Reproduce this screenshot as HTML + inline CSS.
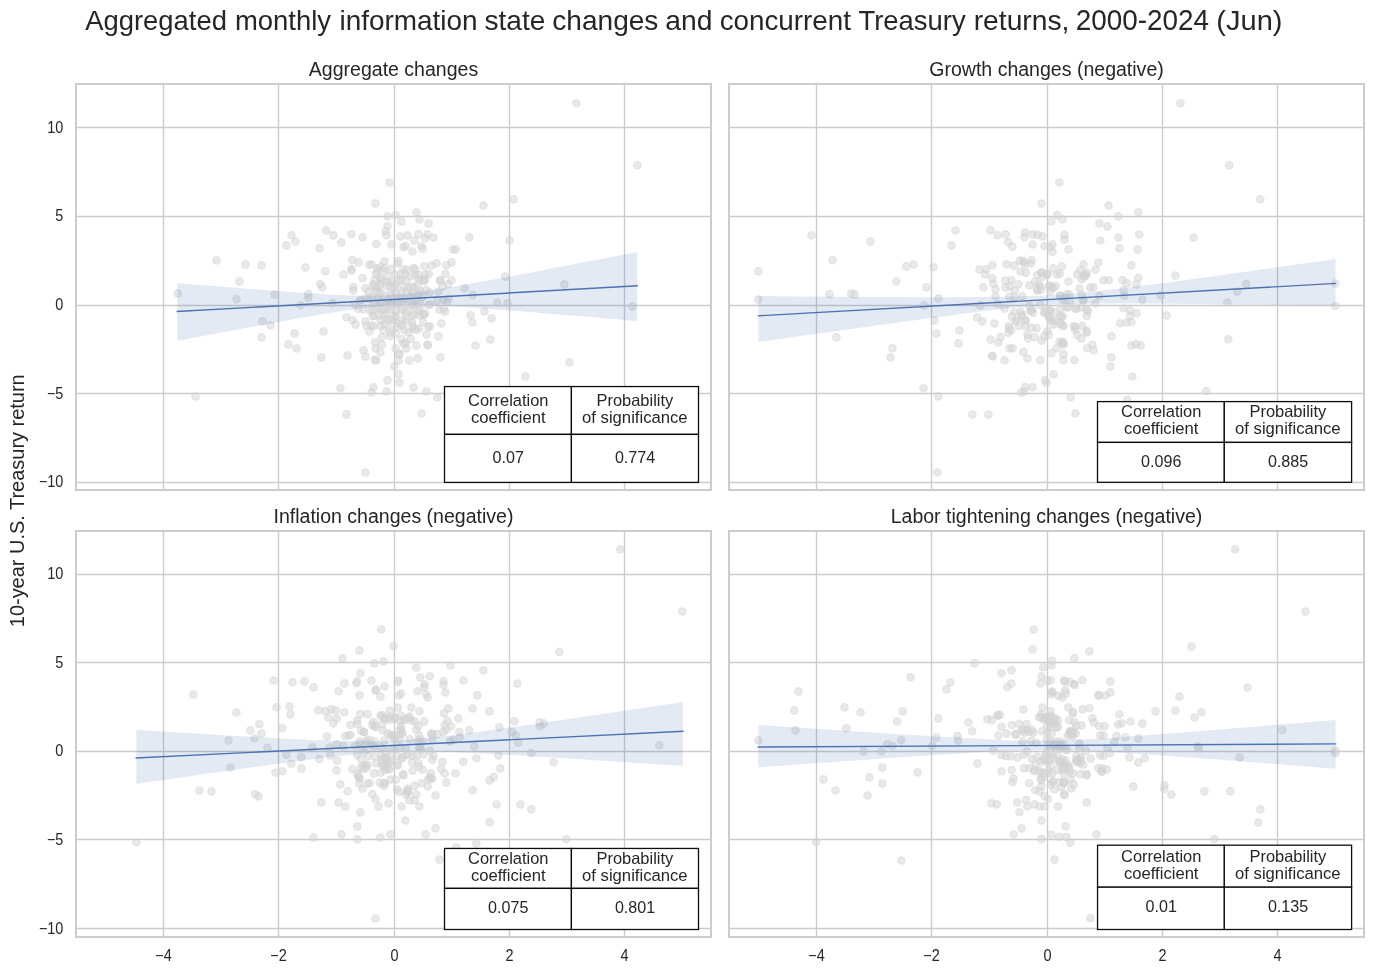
<!DOCTYPE html>
<html lang="en">
<head>
<meta charset="utf-8">
<title>Aggregated monthly information state changes and concurrent Treasury returns</title>
<style>
html,body{margin:0;padding:0;background:#fff;}
body{width:1374px;height:974px;overflow:hidden;font-family:"Liberation Sans",Arial,Helvetica,sans-serif;}
svg{display:block;}
text{font-family:"Liberation Sans",Arial,Helvetica,sans-serif;fill:#262626;}
.grid line{stroke:#cccccc;stroke-width:1.39;}
.spine{fill:none;stroke:#cccccc;stroke-width:2;}
.pts circle{fill:#d3d3d3;fill-opacity:.5;stroke:#d3d3d3;stroke-opacity:.5;stroke-width:1.1;}
.band{fill:#4c72b0;fill-opacity:.15;stroke:none;}
.fit{fill:none;stroke:#4c72b0;stroke-width:1.4;stroke-linecap:butt;}
.tb rect{fill:#fff;stroke:#0d0d0d;stroke-width:1.3;}
</style>
</head>
<body>
<svg width="1374" height="974" viewBox="0 0 1374 974">
<rect width="1374" height="974" fill="#ffffff"/>
<text y="30.2" font-size="27.78px"><tspan x="85.23" textLength="141.66" lengthAdjust="spacingAndGlyphs">Aggregated</tspan> <tspan x="234.95" textLength="96.09" lengthAdjust="spacingAndGlyphs">monthly</tspan> <tspan x="339.48" textLength="138.11" lengthAdjust="spacingAndGlyphs">information</tspan> <tspan x="484.50" textLength="60.80" lengthAdjust="spacingAndGlyphs">state</tspan> <tspan x="552.25" textLength="106.17" lengthAdjust="spacingAndGlyphs">changes</tspan> <tspan x="665.32" textLength="47.12" lengthAdjust="spacingAndGlyphs">and</tspan> <tspan x="719.67" textLength="131.31" lengthAdjust="spacingAndGlyphs">concurrent</tspan> <tspan x="858.48" textLength="107.15" lengthAdjust="spacingAndGlyphs">Treasury</tspan> <tspan x="973.71" textLength="95.66" lengthAdjust="spacingAndGlyphs">returns,</tspan> <tspan x="1075.79" textLength="133.23" lengthAdjust="spacingAndGlyphs" font-size="28.7px">2000-2024</tspan> <tspan x="1216.36" textLength="66.10" lengthAdjust="spacingAndGlyphs">(Jun)</tspan></text>
<text transform="translate(24.0,500.75) rotate(-90) scale(0.959,1)" font-size="20.83px" text-anchor="middle">10-year U.S. Treasury return</text>
<g id="ax0">
<clipPath id="c0"><rect x="76" y="84" width="635" height="406"/></clipPath>
<text x="393.50" y="75.70" font-size="19.55px" text-anchor="middle">Aggregate changes</text>
<g class="grid">
<line x1="163.5" y1="84" x2="163.5" y2="490"/><line x1="278.5" y1="84" x2="278.5" y2="490"/><line x1="394.5" y1="84" x2="394.5" y2="490"/><line x1="509.5" y1="84" x2="509.5" y2="490"/><line x1="624.5" y1="84" x2="624.5" y2="490"/><line x1="76" y1="482.5" x2="711" y2="482.5"/><line x1="76" y1="393.5" x2="711" y2="393.5"/><line x1="76" y1="305.5" x2="711" y2="305.5"/><line x1="76" y1="216.5" x2="711" y2="216.5"/><line x1="76" y1="127.5" x2="711" y2="127.5"/>
</g>
<g class="pts" clip-path="url(#c0)">
<circle cx="576.4" cy="103.3" r="3.75"/><circle cx="637.4" cy="165.2" r="3.75"/><circle cx="389.4" cy="182.5" r="3.75"/><circle cx="513.5" cy="199.2" r="3.75"/><circle cx="177.6" cy="293.4" r="3.75"/><circle cx="216.5" cy="260.4" r="3.75"/>
<circle cx="245.5" cy="264.4" r="3.75"/><circle cx="261.4" cy="265.4" r="3.75"/><circle cx="239.5" cy="281.4" r="3.75"/><circle cx="236.5" cy="299.3" r="3.75"/><circle cx="274.5" cy="294.6" r="3.75"/><circle cx="291.5" cy="235.3" r="3.75"/>
<circle cx="295.4" cy="241.5" r="3.75"/><circle cx="286.4" cy="245.4" r="3.75"/><circle cx="319.5" cy="248.3" r="3.75"/><circle cx="326.3" cy="230.5" r="3.75"/><circle cx="305.4" cy="267.4" r="3.75"/><circle cx="325.3" cy="271.3" r="3.75"/>
<circle cx="320.3" cy="284.1" r="3.75"/><circle cx="322.4" cy="287.3" r="3.75"/><circle cx="308.3" cy="294.1" r="3.75"/><circle cx="308.3" cy="298.0" r="3.75"/><circle cx="300.4" cy="305.2" r="3.75"/><circle cx="262.5" cy="321.3" r="3.75"/>
<circle cx="270.5" cy="325.4" r="3.75"/><circle cx="261.5" cy="337.4" r="3.75"/><circle cx="294.5" cy="333.4" r="3.75"/><circle cx="288.4" cy="344.4" r="3.75"/><circle cx="296.6" cy="348.4" r="3.75"/><circle cx="323.5" cy="331.4" r="3.75"/>
<circle cx="321.4" cy="357.4" r="3.75"/><circle cx="195.5" cy="396.4" r="3.75"/><circle cx="375.4" cy="203.4" r="3.75"/><circle cx="387.5" cy="216.4" r="3.75"/><circle cx="395.7" cy="215.3" r="3.75"/><circle cx="416.5" cy="212.4" r="3.75"/>
<circle cx="401.5" cy="221.5" r="3.75"/><circle cx="419.4" cy="219.5" r="3.75"/><circle cx="428.6" cy="223.4" r="3.75"/><circle cx="387.5" cy="226.3" r="3.75"/><circle cx="385.5" cy="231.3" r="3.75"/><circle cx="386.4" cy="235.3" r="3.75"/>
<circle cx="333.3" cy="235.4" r="3.75"/><circle cx="351.5" cy="234.2" r="3.75"/><circle cx="341.4" cy="242.4" r="3.75"/><circle cx="362.5" cy="237.4" r="3.75"/><circle cx="376.4" cy="244.3" r="3.75"/><circle cx="391.5" cy="244.4" r="3.75"/>
<circle cx="400.4" cy="236.4" r="3.75"/><circle cx="407.5" cy="235.4" r="3.75"/><circle cx="418.4" cy="234.2" r="3.75"/><circle cx="414.4" cy="240.5" r="3.75"/><circle cx="427.5" cy="234.2" r="3.75"/><circle cx="425.3" cy="238.2" r="3.75"/>
<circle cx="403.5" cy="247.3" r="3.75"/><circle cx="405.7" cy="246.0" r="3.75"/><circle cx="412.5" cy="251.5" r="3.75"/><circle cx="421.3" cy="246.2" r="3.75"/><circle cx="422.6" cy="248.6" r="3.75"/><circle cx="352.3" cy="260.3" r="3.75"/>
<circle cx="358.6" cy="262.4" r="3.75"/><circle cx="351.5" cy="269.1" r="3.75"/><circle cx="369.3" cy="264.8" r="3.75"/><circle cx="371.6" cy="264.4" r="3.75"/><circle cx="384.4" cy="261.3" r="3.75"/><circle cx="397.3" cy="263.5" r="3.75"/>
<circle cx="398.6" cy="261.1" r="3.75"/><circle cx="380.2" cy="267.0" r="3.75"/><circle cx="413.3" cy="268.0" r="3.75"/><circle cx="424.4" cy="266.2" r="3.75"/><circle cx="483.5" cy="205.5" r="3.75"/><circle cx="433.3" cy="237.5" r="3.75"/>
<circle cx="469.4" cy="237.4" r="3.75"/><circle cx="509.5" cy="240.4" r="3.75"/><circle cx="452.9" cy="249.5" r="3.75"/><circle cx="455.8" cy="249.5" r="3.75"/><circle cx="436.6" cy="263.3" r="3.75"/><circle cx="431.5" cy="265.5" r="3.75"/>
<circle cx="446.4" cy="265.3" r="3.75"/><circle cx="451.6" cy="262.4" r="3.75"/><circle cx="445.4" cy="274.0" r="3.75"/><circle cx="439.8" cy="280.2" r="3.75"/><circle cx="440.2" cy="280.8" r="3.75"/><circle cx="451.5" cy="280.2" r="3.75"/>
<circle cx="448.2" cy="284.2" r="3.75"/><circle cx="442.7" cy="286.4" r="3.75"/><circle cx="438.4" cy="291.5" r="3.75"/><circle cx="464.6" cy="288.3" r="3.75"/><circle cx="472.6" cy="295.1" r="3.75"/><circle cx="437.3" cy="300.6" r="3.75"/>
<circle cx="443.8" cy="299.8" r="3.75"/><circle cx="448.6" cy="298.7" r="3.75"/><circle cx="446.7" cy="302.0" r="3.75"/><circle cx="497.3" cy="302.5" r="3.75"/><circle cx="507.5" cy="303.3" r="3.75"/><circle cx="505.3" cy="276.6" r="3.75"/>
<circle cx="484.4" cy="311.5" r="3.75"/><circle cx="439.5" cy="309.7" r="3.75"/><circle cx="444.9" cy="311.5" r="3.75"/><circle cx="443.8" cy="308.9" r="3.75"/><circle cx="470.5" cy="315.3" r="3.75"/><circle cx="472.4" cy="322.5" r="3.75"/>
<circle cx="491.5" cy="318.4" r="3.75"/><circle cx="441.4" cy="323.5" r="3.75"/><circle cx="430.0" cy="326.4" r="3.75"/><circle cx="438.4" cy="336.4" r="3.75"/><circle cx="490.4" cy="339.5" r="3.75"/><circle cx="430.0" cy="304.6" r="3.75"/>
<circle cx="347.5" cy="355.4" r="3.75"/><circle cx="363.5" cy="350.3" r="3.75"/><circle cx="365.4" cy="356.6" r="3.75"/><circle cx="374.8" cy="359.7" r="3.75"/><circle cx="376.2" cy="360.4" r="3.75"/><circle cx="375.5" cy="348.4" r="3.75"/>
<circle cx="380.4" cy="352.4" r="3.75"/><circle cx="375.1" cy="342.5" r="3.75"/><circle cx="382.0" cy="344.4" r="3.75"/><circle cx="395.5" cy="348.4" r="3.75"/><circle cx="399.1" cy="353.8" r="3.75"/><circle cx="399.5" cy="354.6" r="3.75"/>
<circle cx="406.4" cy="348.4" r="3.75"/><circle cx="403.5" cy="343.6" r="3.75"/><circle cx="405.7" cy="342.9" r="3.75"/><circle cx="416.4" cy="345.5" r="3.75"/><circle cx="427.5" cy="344.5" r="3.75"/><circle cx="427.9" cy="345.2" r="3.75"/>
<circle cx="398.4" cy="360.7" r="3.75"/><circle cx="409.3" cy="360.5" r="3.75"/><circle cx="417.6" cy="358.4" r="3.75"/><circle cx="394.4" cy="366.3" r="3.75"/><circle cx="398.6" cy="374.2" r="3.75"/><circle cx="387.5" cy="380.4" r="3.75"/>
<circle cx="399.5" cy="382.6" r="3.75"/><circle cx="373.4" cy="387.3" r="3.75"/><circle cx="371.5" cy="392.4" r="3.75"/><circle cx="386.4" cy="391.5" r="3.75"/><circle cx="413.5" cy="387.5" r="3.75"/><circle cx="426.4" cy="391.5" r="3.75"/>
<circle cx="340.4" cy="388.3" r="3.75"/><circle cx="475.5" cy="345.5" r="3.75"/><circle cx="440.4" cy="357.3" r="3.75"/><circle cx="525.3" cy="376.4" r="3.75"/><circle cx="437.3" cy="397.5" r="3.75"/><circle cx="569.5" cy="362.4" r="3.75"/>
<circle cx="346.5" cy="414.4" r="3.75"/><circle cx="421.5" cy="413.5" r="3.75"/><circle cx="365.4" cy="472.5" r="3.75"/><circle cx="564.4" cy="284.4" r="3.75"/><circle cx="632.3" cy="306.4" r="3.75"/><circle cx="343.5" cy="274.5" r="3.75"/>
<circle cx="351.5" cy="270.7" r="3.75"/><circle cx="362.5" cy="278.2" r="3.75"/><circle cx="353.3" cy="287.1" r="3.75"/><circle cx="353.3" cy="290.4" r="3.75"/><circle cx="365.4" cy="288.2" r="3.75"/><circle cx="332.5" cy="303.1" r="3.75"/>
<circle cx="346.4" cy="317.3" r="3.75"/><circle cx="352.6" cy="320.2" r="3.75"/><circle cx="355.5" cy="324.6" r="3.75"/><circle cx="369.3" cy="331.5" r="3.75"/><circle cx="365.4" cy="321.3" r="3.75"/><circle cx="377.1" cy="271.4" r="3.75"/>
<circle cx="382.9" cy="270.5" r="3.75"/><circle cx="406.8" cy="269.7" r="3.75"/><circle cx="405.0" cy="273.8" r="3.75"/><circle cx="395.7" cy="274.9" r="3.75"/><circle cx="415.5" cy="275.5" r="3.75"/><circle cx="425.4" cy="274.9" r="3.75"/>
<circle cx="380.6" cy="278.4" r="3.75"/><circle cx="387.5" cy="281.9" r="3.75"/><circle cx="401.5" cy="279.6" r="3.75"/><circle cx="423.1" cy="280.2" r="3.75"/><circle cx="423.6" cy="281.0" r="3.75"/><circle cx="373.0" cy="284.3" r="3.75"/>
<circle cx="375.9" cy="287.2" r="3.75"/><circle cx="380.6" cy="283.1" r="3.75"/><circle cx="389.9" cy="285.4" r="3.75"/><circle cx="407.9" cy="287.7" r="3.75"/><circle cx="412.0" cy="286.6" r="3.75"/><circle cx="395.7" cy="284.3" r="3.75"/>
<circle cx="417.8" cy="284.3" r="3.75"/><circle cx="420.7" cy="291.2" r="3.75"/><circle cx="426.0" cy="290.1" r="3.75"/><circle cx="384.0" cy="295.9" r="3.75"/><circle cx="392.2" cy="294.7" r="3.75"/><circle cx="410.8" cy="295.9" r="3.75"/>
<circle cx="419.0" cy="294.7" r="3.75"/><circle cx="378.2" cy="291.2" r="3.75"/><circle cx="401.5" cy="291.2" r="3.75"/><circle cx="366.6" cy="298.2" r="3.75"/><circle cx="372.4" cy="297.1" r="3.75"/><circle cx="359.6" cy="300.6" r="3.75"/>
<circle cx="354.9" cy="304.6" r="3.75"/><circle cx="401.5" cy="298.2" r="3.75"/><circle cx="416.7" cy="304.0" r="3.75"/><circle cx="428.3" cy="305.2" r="3.75"/><circle cx="412.0" cy="305.2" r="3.75"/><circle cx="389.9" cy="301.7" r="3.75"/>
<circle cx="380.6" cy="301.7" r="3.75"/><circle cx="396.9" cy="303.5" r="3.75"/><circle cx="358.4" cy="308.7" r="3.75"/><circle cx="363.1" cy="309.3" r="3.75"/><circle cx="372.4" cy="310.5" r="3.75"/><circle cx="380.6" cy="309.9" r="3.75"/>
<circle cx="387.5" cy="308.7" r="3.75"/><circle cx="395.7" cy="311.0" r="3.75"/><circle cx="401.5" cy="309.9" r="3.75"/><circle cx="406.2" cy="312.2" r="3.75"/><circle cx="417.8" cy="309.9" r="3.75"/><circle cx="423.1" cy="313.9" r="3.75"/>
<circle cx="423.6" cy="314.8" r="3.75"/><circle cx="373.6" cy="316.3" r="3.75"/><circle cx="384.0" cy="315.7" r="3.75"/><circle cx="395.7" cy="316.9" r="3.75"/><circle cx="412.0" cy="316.3" r="3.75"/><circle cx="389.9" cy="320.3" r="3.75"/>
<circle cx="406.2" cy="321.5" r="3.75"/><circle cx="423.1" cy="322.1" r="3.75"/><circle cx="371.2" cy="325.6" r="3.75"/><circle cx="384.6" cy="324.4" r="3.75"/><circle cx="399.2" cy="323.8" r="3.75"/><circle cx="428.3" cy="326.8" r="3.75"/>
<circle cx="413.2" cy="328.5" r="3.75"/><circle cx="419.0" cy="328.5" r="3.75"/><circle cx="395.7" cy="333.2" r="3.75"/><circle cx="408.5" cy="332.6" r="3.75"/><circle cx="426.6" cy="334.6" r="3.75"/><circle cx="381.7" cy="337.2" r="3.75"/>
<circle cx="389.9" cy="336.1" r="3.75"/><circle cx="401.5" cy="339.0" r="3.75"/><circle cx="410.8" cy="339.0" r="3.75"/><circle cx="377.1" cy="268.2" r="3.75"/><circle cx="384.7" cy="268.0" r="3.75"/><circle cx="391.3" cy="268.9" r="3.75"/>
<circle cx="403.4" cy="269.3" r="3.75"/><circle cx="414.9" cy="269.1" r="3.75"/><circle cx="375.8" cy="273.9" r="3.75"/><circle cx="388.2" cy="276.1" r="3.75"/><circle cx="400.6" cy="274.3" r="3.75"/><circle cx="410.5" cy="276.4" r="3.75"/>
<circle cx="419.1" cy="274.8" r="3.75"/><circle cx="428.8" cy="273.7" r="3.75"/><circle cx="374.7" cy="280.3" r="3.75"/><circle cx="381.7" cy="279.8" r="3.75"/><circle cx="390.8" cy="281.9" r="3.75"/><circle cx="397.9" cy="281.2" r="3.75"/>
<circle cx="406.1" cy="280.5" r="3.75"/><circle cx="419.1" cy="279.6" r="3.75"/><circle cx="425.1" cy="280.0" r="3.75"/><circle cx="372.9" cy="286.5" r="3.75"/><circle cx="379.2" cy="287.0" r="3.75"/><circle cx="386.8" cy="286.1" r="3.75"/>
<circle cx="394.9" cy="287.3" r="3.75"/><circle cx="403.8" cy="287.0" r="3.75"/><circle cx="414.6" cy="287.9" r="3.75"/><circle cx="368.6" cy="291.9" r="3.75"/><circle cx="375.7" cy="291.4" r="3.75"/><circle cx="380.9" cy="293.3" r="3.75"/>
<circle cx="390.5" cy="292.5" r="3.75"/><circle cx="396.0" cy="293.1" r="3.75"/><circle cx="406.5" cy="292.8" r="3.75"/><circle cx="413.3" cy="292.0" r="3.75"/><circle cx="419.5" cy="292.9" r="3.75"/><circle cx="429.3" cy="292.4" r="3.75"/>
<circle cx="361.6" cy="299.7" r="3.75"/><circle cx="369.6" cy="298.9" r="3.75"/><circle cx="377.6" cy="299.0" r="3.75"/><circle cx="387.9" cy="299.9" r="3.75"/><circle cx="397.3" cy="297.7" r="3.75"/><circle cx="405.1" cy="298.9" r="3.75"/>
<circle cx="413.2" cy="298.3" r="3.75"/><circle cx="422.5" cy="297.2" r="3.75"/><circle cx="374.3" cy="304.3" r="3.75"/><circle cx="382.0" cy="302.7" r="3.75"/><circle cx="390.3" cy="304.6" r="3.75"/><circle cx="397.6" cy="303.3" r="3.75"/>
<circle cx="406.0" cy="304.6" r="3.75"/><circle cx="413.9" cy="304.6" r="3.75"/><circle cx="419.8" cy="303.2" r="3.75"/><circle cx="369.9" cy="310.5" r="3.75"/><circle cx="378.2" cy="308.3" r="3.75"/><circle cx="383.2" cy="308.5" r="3.75"/>
<circle cx="390.7" cy="309.3" r="3.75"/><circle cx="401.2" cy="308.6" r="3.75"/><circle cx="409.5" cy="309.1" r="3.75"/><circle cx="420.1" cy="309.5" r="3.75"/><circle cx="372.8" cy="315.7" r="3.75"/><circle cx="379.3" cy="315.5" r="3.75"/>
<circle cx="387.3" cy="313.8" r="3.75"/><circle cx="395.2" cy="316.0" r="3.75"/><circle cx="405.3" cy="316.0" r="3.75"/><circle cx="414.3" cy="314.8" r="3.75"/><circle cx="419.5" cy="315.5" r="3.75"/><circle cx="425.1" cy="313.8" r="3.75"/>
<circle cx="380.5" cy="319.9" r="3.75"/><circle cx="388.0" cy="319.6" r="3.75"/><circle cx="393.1" cy="319.9" r="3.75"/><circle cx="402.7" cy="320.5" r="3.75"/><circle cx="412.0" cy="322.1" r="3.75"/><circle cx="366.1" cy="325.7" r="3.75"/>
<circle cx="373.9" cy="326.3" r="3.75"/><circle cx="380.8" cy="325.6" r="3.75"/><circle cx="390.0" cy="328.3" r="3.75"/><circle cx="397.0" cy="326.7" r="3.75"/><circle cx="402.0" cy="325.6" r="3.75"/><circle cx="412.7" cy="326.1" r="3.75"/>
<circle cx="383.4" cy="330.1" r="3.75"/><circle cx="390.1" cy="332.5" r="3.75"/><circle cx="404.5" cy="330.1" r="3.75"/><circle cx="416.1" cy="329.7" r="3.75"/>
</g>
<polygon class="band" points="177.3,283.1 185.1,283.7 192.9,284.4 200.7,285.0 208.5,285.6 216.3,286.2 224.1,286.9 231.9,287.5 239.7,288.1 247.4,288.7 255.2,289.3 263.0,289.9 270.8,290.5 278.6,291.1 286.4,291.7 294.2,292.2 302.0,292.8 309.8,293.3 317.6,293.8 325.4,294.2 333.2,294.7 341.0,295.1 348.8,295.4 356.6,295.6 364.4,295.7 372.2,295.7 380.0,295.5 387.8,295.1 395.6,294.6 403.4,293.9 411.1,293.0 418.9,292.0 426.7,290.9 434.5,289.7 442.3,288.5 450.1,287.2 457.9,285.8 465.7,284.4 473.5,283.1 481.3,281.6 489.1,280.2 496.9,278.8 504.7,277.3 512.5,275.9 520.3,274.4 528.1,272.9 535.9,271.4 543.7,269.9 551.5,268.4 559.2,267.0 567.0,265.5 574.8,264.0 582.6,262.5 590.4,260.9 598.2,259.4 606.0,257.9 613.8,256.4 621.6,254.9 629.4,253.4 637.2,251.9 637.2,321.1 629.4,320.5 621.6,319.8 613.8,319.1 606.0,318.5 598.2,317.8 590.4,317.1 582.6,316.5 574.8,315.8 567.0,315.2 559.2,314.5 551.5,313.9 543.7,313.2 535.9,312.6 528.1,311.9 520.3,311.3 512.5,310.7 504.7,310.1 496.9,309.5 489.1,308.9 481.3,308.3 473.5,307.8 465.7,307.2 457.9,306.7 450.1,306.3 442.3,305.8 434.5,305.5 426.7,305.2 418.9,305.0 411.1,304.9 403.4,305.0 395.6,305.2 387.8,305.7 380.0,306.3 372.2,307.1 364.4,308.0 356.6,309.0 348.8,310.1 341.0,311.3 333.2,312.5 325.4,313.8 317.6,315.1 309.8,316.5 302.0,317.8 294.2,319.2 286.4,320.6 278.6,322.0 270.8,323.4 263.0,324.9 255.2,326.3 247.4,327.7 239.7,329.2 231.9,330.6 224.1,332.1 216.3,333.5 208.5,335.0 200.7,336.4 192.9,337.9 185.1,339.4 177.3,340.8"/>
<line class="fit" x1="176.6" y1="311.5" x2="637.9" y2="285.8"/>
<rect class="spine" x="76" y="84" width="635" height="406"/>
<text transform="translate(63.40,487.00) scale(0.91,1)" font-size="15.9px" text-anchor="end">−10</text><text transform="translate(63.40,399.00) scale(0.91,1)" font-size="15.9px" text-anchor="end">−5</text><text transform="translate(63.40,310.00) scale(0.91,1)" font-size="15.9px" text-anchor="end">0</text><text transform="translate(63.40,221.00) scale(0.91,1)" font-size="15.9px" text-anchor="end">5</text><text transform="translate(63.40,133.00) scale(0.91,1)" font-size="15.9px" text-anchor="end">10</text>
<g class="tb">
<rect x="444.5" y="386.55" width="126.9" height="47.8"/><rect x="571.4" y="386.55" width="127.1" height="47.8"/><rect x="444.5" y="434.4" width="126.9" height="48.0"/><rect x="571.4" y="434.4" width="127.1" height="48.0"/>
<text transform="translate(508.25,405.70) scale(0.986,1)" font-size="16.67px" text-anchor="middle">Correlation</text><text transform="translate(508.25,422.70) scale(0.998,1)" font-size="16.67px" text-anchor="middle">coefficient</text>
<text transform="translate(634.85,405.70) scale(0.987,1)" font-size="16.67px" text-anchor="middle">Probability</text><text x="634.85" y="422.70" font-size="16.67px" text-anchor="middle">of significance</text>
<text transform="translate(508.25,463.00) scale(0.932,1)" font-size="17.3px" text-anchor="middle">0.07</text><text transform="translate(635.05,463.00) scale(0.932,1)" font-size="17.3px" text-anchor="middle">0.774</text>
</g>
</g>
<g id="ax1">
<clipPath id="c1"><rect x="729" y="84" width="635" height="406"/></clipPath>
<text x="1046.50" y="75.70" font-size="19.55px" text-anchor="middle">Growth changes (negative)</text>
<g class="grid">
<line x1="816.5" y1="84" x2="816.5" y2="490"/><line x1="931.5" y1="84" x2="931.5" y2="490"/><line x1="1047.5" y1="84" x2="1047.5" y2="490"/><line x1="1162.5" y1="84" x2="1162.5" y2="490"/><line x1="1277.5" y1="84" x2="1277.5" y2="490"/><line x1="729" y1="482.5" x2="1364" y2="482.5"/><line x1="729" y1="393.5" x2="1364" y2="393.5"/><line x1="729" y1="305.5" x2="1364" y2="305.5"/><line x1="729" y1="216.5" x2="1364" y2="216.5"/><line x1="729" y1="127.5" x2="1364" y2="127.5"/>
</g>
<g class="pts" clip-path="url(#c1)">
<circle cx="1180.4" cy="103.3" r="3.75"/><circle cx="1229.3" cy="165.2" r="3.75"/><circle cx="1260.3" cy="199.2" r="3.75"/><circle cx="1059.3" cy="182.5" r="3.75"/><circle cx="811.4" cy="235.4" r="3.75"/><circle cx="870.4" cy="241.5" r="3.75"/>
<circle cx="832.5" cy="260.3" r="3.75"/><circle cx="758.4" cy="271.3" r="3.75"/><circle cx="896.3" cy="281.5" r="3.75"/><circle cx="829.4" cy="294.3" r="3.75"/><circle cx="851.2" cy="293.4" r="3.75"/><circle cx="854.7" cy="294.6" r="3.75"/>
<circle cx="758.4" cy="299.4" r="3.75"/><circle cx="836.4" cy="337.4" r="3.75"/><circle cx="892.4" cy="348.4" r="3.75"/><circle cx="890.5" cy="357.5" r="3.75"/><circle cx="1041.5" cy="203.5" r="3.75"/><circle cx="1057.2" cy="215.1" r="3.75"/>
<circle cx="1051.4" cy="221.5" r="3.75"/><circle cx="955.5" cy="230.5" r="3.75"/><circle cx="951.5" cy="245.4" r="3.75"/><circle cx="990.5" cy="230.3" r="3.75"/><circle cx="997.4" cy="235.3" r="3.75"/><circle cx="1005.6" cy="234.4" r="3.75"/>
<circle cx="1008.3" cy="242.2" r="3.75"/><circle cx="1012.4" cy="246.6" r="3.75"/><circle cx="1025.2" cy="232.6" r="3.75"/><circle cx="1024.4" cy="237.3" r="3.75"/><circle cx="1032.8" cy="234.4" r="3.75"/><circle cx="1037.4" cy="234.9" r="3.75"/>
<circle cx="1042.6" cy="236.4" r="3.75"/><circle cx="1032.4" cy="244.5" r="3.75"/><circle cx="1044.4" cy="246.2" r="3.75"/><circle cx="1050.8" cy="247.2" r="3.75"/><circle cx="1052.5" cy="244.3" r="3.75"/><circle cx="1052.5" cy="251.8" r="3.75"/>
<circle cx="906.4" cy="266.4" r="3.75"/><circle cx="913.6" cy="264.4" r="3.75"/><circle cx="933.4" cy="267.3" r="3.75"/><circle cx="926.6" cy="287.3" r="3.75"/><circle cx="938.4" cy="298.4" r="3.75"/><circle cx="924.2" cy="305.4" r="3.75"/>
<circle cx="979.4" cy="269.4" r="3.75"/><circle cx="986.4" cy="269.3" r="3.75"/><circle cx="985.2" cy="274.5" r="3.75"/><circle cx="983.4" cy="287.3" r="3.75"/><circle cx="980.3" cy="305.4" r="3.75"/><circle cx="1019.9" cy="260.6" r="3.75"/>
<circle cx="1023.4" cy="261.7" r="3.75"/><circle cx="1031.6" cy="260.3" r="3.75"/><circle cx="1108.5" cy="205.5" r="3.75"/><circle cx="1138.4" cy="212.2" r="3.75"/><circle cx="1118.3" cy="216.3" r="3.75"/><circle cx="1062.5" cy="219.4" r="3.75"/>
<circle cx="1099.4" cy="223.5" r="3.75"/><circle cx="1107.5" cy="226.4" r="3.75"/><circle cx="1064.5" cy="234.9" r="3.75"/><circle cx="1064.5" cy="239.6" r="3.75"/><circle cx="1139.3" cy="234.5" r="3.75"/><circle cx="1118.4" cy="237.5" r="3.75"/>
<circle cx="1100.3" cy="240.5" r="3.75"/><circle cx="1068.5" cy="249.5" r="3.75"/><circle cx="1119.4" cy="248.4" r="3.75"/><circle cx="1137.6" cy="249.5" r="3.75"/><circle cx="1193.5" cy="237.5" r="3.75"/><circle cx="1098.5" cy="262.5" r="3.75"/>
<circle cx="1095.5" cy="269.5" r="3.75"/><circle cx="1131.4" cy="265.4" r="3.75"/><circle cx="1103.5" cy="280.3" r="3.75"/><circle cx="1108.7" cy="280.3" r="3.75"/><circle cx="1122.3" cy="280.1" r="3.75"/><circle cx="1126.8" cy="283.3" r="3.75"/>
<circle cx="1138.4" cy="278.0" r="3.75"/><circle cx="1136.4" cy="284.4" r="3.75"/><circle cx="1175.4" cy="275.5" r="3.75"/><circle cx="1093.3" cy="287.3" r="3.75"/><circle cx="1099.4" cy="296.1" r="3.75"/><circle cx="1123.5" cy="290.2" r="3.75"/>
<circle cx="1124.4" cy="295.7" r="3.75"/><circle cx="1142.5" cy="299.6" r="3.75"/><circle cx="1160.5" cy="295.5" r="3.75"/><circle cx="1095.3" cy="303.6" r="3.75"/><circle cx="1123.5" cy="308.3" r="3.75"/><circle cx="1130.2" cy="310.6" r="3.75"/>
<circle cx="934.4" cy="320.4" r="3.75"/><circle cx="936.4" cy="333.5" r="3.75"/><circle cx="959.4" cy="330.5" r="3.75"/><circle cx="958.5" cy="343.4" r="3.75"/><circle cx="977.2" cy="317.5" r="3.75"/><circle cx="982.4" cy="321.4" r="3.75"/>
<circle cx="990.5" cy="339.6" r="3.75"/><circle cx="1000.4" cy="337.0" r="3.75"/><circle cx="998.4" cy="342.5" r="3.75"/><circle cx="992.0" cy="355.7" r="3.75"/><circle cx="992.6" cy="356.5" r="3.75"/><circle cx="1004.5" cy="360.3" r="3.75"/>
<circle cx="1008.3" cy="332.8" r="3.75"/><circle cx="1027.5" cy="334.4" r="3.75"/><circle cx="1028.1" cy="338.4" r="3.75"/><circle cx="1034.5" cy="337.3" r="3.75"/><circle cx="1041.5" cy="340.8" r="3.75"/><circle cx="1044.4" cy="336.1" r="3.75"/>
<circle cx="1048.5" cy="334.9" r="3.75"/><circle cx="1009.5" cy="348.3" r="3.75"/><circle cx="1012.7" cy="348.3" r="3.75"/><circle cx="1023.4" cy="352.1" r="3.75"/><circle cx="1027.5" cy="358.5" r="3.75"/><circle cx="1040.3" cy="360.3" r="3.75"/>
<circle cx="1051.4" cy="353.3" r="3.75"/><circle cx="1056.6" cy="348.3" r="3.75"/><circle cx="1059.5" cy="341.9" r="3.75"/><circle cx="1053.5" cy="374.3" r="3.75"/><circle cx="1045.0" cy="380.3" r="3.75"/><circle cx="1046.5" cy="382.7" r="3.75"/>
<circle cx="1025.2" cy="387.1" r="3.75"/><circle cx="1032.5" cy="387.3" r="3.75"/><circle cx="1021.1" cy="392.6" r="3.75"/><circle cx="1024.4" cy="391.4" r="3.75"/><circle cx="923.5" cy="388.3" r="3.75"/><circle cx="938.4" cy="396.4" r="3.75"/>
<circle cx="1086.6" cy="332.6" r="3.75"/><circle cx="1077.3" cy="334.9" r="3.75"/><circle cx="1081.3" cy="338.4" r="3.75"/><circle cx="1062.7" cy="341.9" r="3.75"/><circle cx="1063.3" cy="342.9" r="3.75"/><circle cx="1063.9" cy="344.8" r="3.75"/>
<circle cx="1063.3" cy="354.1" r="3.75"/><circle cx="1063.3" cy="360.3" r="3.75"/><circle cx="1074.4" cy="360.3" r="3.75"/><circle cx="1087.2" cy="348.3" r="3.75"/><circle cx="1092.4" cy="344.8" r="3.75"/><circle cx="1093.6" cy="350.3" r="3.75"/>
<circle cx="1111.4" cy="336.3" r="3.75"/><circle cx="1111.4" cy="357.3" r="3.75"/><circle cx="1110.5" cy="366.4" r="3.75"/><circle cx="1120.1" cy="323.3" r="3.75"/><circle cx="1126.4" cy="322.5" r="3.75"/><circle cx="1131.4" cy="322.1" r="3.75"/>
<circle cx="1130.2" cy="315.7" r="3.75"/><circle cx="1136.7" cy="313.4" r="3.75"/><circle cx="1131.4" cy="345.4" r="3.75"/><circle cx="1136.1" cy="344.3" r="3.75"/><circle cx="1140.7" cy="345.4" r="3.75"/><circle cx="1132.3" cy="376.5" r="3.75"/>
<circle cx="1166.6" cy="315.4" r="3.75"/><circle cx="1070.5" cy="397.2" r="3.75"/><circle cx="1127.3" cy="400.1" r="3.75"/><circle cx="1246.3" cy="284.1" r="3.75"/><circle cx="1237.4" cy="291.5" r="3.75"/><circle cx="1227.4" cy="302.4" r="3.75"/>
<circle cx="1335.4" cy="283.5" r="3.75"/><circle cx="1335.4" cy="306.0" r="3.75"/><circle cx="1228.4" cy="339.3" r="3.75"/><circle cx="1206.3" cy="391.3" r="3.75"/><circle cx="972.3" cy="414.5" r="3.75"/><circle cx="988.4" cy="414.5" r="3.75"/>
<circle cx="1075.4" cy="413.5" r="3.75"/><circle cx="937.4" cy="472.3" r="3.75"/><circle cx="1049.7" cy="285.4" r="3.75"/><circle cx="1053.2" cy="287.7" r="3.75"/><circle cx="1047.3" cy="274.9" r="3.75"/><circle cx="1041.5" cy="272.6" r="3.75"/>
<circle cx="1036.9" cy="288.9" r="3.75"/><circle cx="1040.3" cy="286.6" r="3.75"/><circle cx="1083.4" cy="276.1" r="3.75"/><circle cx="1085.8" cy="274.9" r="3.75"/><circle cx="1060.1" cy="295.9" r="3.75"/><circle cx="1064.8" cy="297.1" r="3.75"/>
<circle cx="1048.5" cy="315.7" r="3.75"/><circle cx="1052.0" cy="320.3" r="3.75"/><circle cx="1049.7" cy="311.0" r="3.75"/><circle cx="1061.3" cy="316.9" r="3.75"/><circle cx="1062.5" cy="325.0" r="3.75"/><circle cx="1021.7" cy="314.5" r="3.75"/>
<circle cx="1025.2" cy="320.3" r="3.75"/><circle cx="1029.9" cy="311.0" r="3.75"/><circle cx="1032.2" cy="309.9" r="3.75"/><circle cx="1068.3" cy="307.5" r="3.75"/><circle cx="1076.4" cy="308.7" r="3.75"/><circle cx="1081.1" cy="307.5" r="3.75"/>
<circle cx="1088.1" cy="311.0" r="3.75"/><circle cx="1075.3" cy="326.8" r="3.75"/><circle cx="1009.5" cy="328.5" r="3.75"/><circle cx="1022.9" cy="261.0" r="3.75"/><circle cx="1061.9" cy="343.1" r="3.75"/><circle cx="1043.8" cy="312.2" r="3.75"/>
<circle cx="1055.5" cy="321.5" r="3.75"/><circle cx="1015.9" cy="321.5" r="3.75"/><circle cx="1083.4" cy="300.6" r="3.75"/><circle cx="1069.5" cy="294.7" r="3.75"/><circle cx="992.5" cy="265.3" r="3.75"/><circle cx="1006.4" cy="264.2" r="3.75"/>
<circle cx="1014.0" cy="265.6" r="3.75"/><circle cx="1020.6" cy="271.5" r="3.75"/><circle cx="1025.7" cy="272.6" r="3.75"/><circle cx="1024.9" cy="264.2" r="3.75"/><circle cx="1030.8" cy="263.5" r="3.75"/><circle cx="992.2" cy="278.4" r="3.75"/>
<circle cx="1005.3" cy="280.6" r="3.75"/><circle cx="1011.5" cy="280.2" r="3.75"/><circle cx="993.3" cy="283.8" r="3.75"/><circle cx="995.5" cy="289.3" r="3.75"/><circle cx="1005.6" cy="287.5" r="3.75"/><circle cx="1010.0" cy="286.4" r="3.75"/>
<circle cx="1014.7" cy="290.4" r="3.75"/><circle cx="1018.7" cy="284.2" r="3.75"/><circle cx="1029.3" cy="285.3" r="3.75"/><circle cx="1035.1" cy="281.7" r="3.75"/><circle cx="1037.3" cy="275.1" r="3.75"/><circle cx="1041.3" cy="272.2" r="3.75"/>
<circle cx="1038.8" cy="284.6" r="3.75"/><circle cx="1042.4" cy="276.6" r="3.75"/><circle cx="1047.5" cy="273.6" r="3.75"/><circle cx="1037.3" cy="290.4" r="3.75"/><circle cx="1040.9" cy="289.7" r="3.75"/><circle cx="1049.0" cy="286.0" r="3.75"/>
<circle cx="1051.9" cy="287.5" r="3.75"/><circle cx="1055.5" cy="286.0" r="3.75"/><circle cx="1050.4" cy="291.1" r="3.75"/><circle cx="1053.3" cy="268.2" r="3.75"/><circle cx="1061.7" cy="266.4" r="3.75"/><circle cx="1057.0" cy="274.4" r="3.75"/>
<circle cx="1059.9" cy="273.6" r="3.75"/><circle cx="1068.5" cy="281.5" r="3.75"/><circle cx="1083.5" cy="264.2" r="3.75"/><circle cx="1080.2" cy="270.0" r="3.75"/><circle cx="1077.3" cy="274.4" r="3.75"/><circle cx="1086.8" cy="272.9" r="3.75"/>
<circle cx="1081.7" cy="279.5" r="3.75"/><circle cx="1084.6" cy="276.6" r="3.75"/><circle cx="1079.5" cy="288.6" r="3.75"/><circle cx="1090.0" cy="287.5" r="3.75"/><circle cx="995.5" cy="296.2" r="3.75"/><circle cx="1009.3" cy="296.9" r="3.75"/>
<circle cx="1014.7" cy="296.9" r="3.75"/><circle cx="1022.4" cy="296.2" r="3.75"/><circle cx="1004.6" cy="308.6" r="3.75"/><circle cx="998.0" cy="304.2" r="3.75"/><circle cx="1014.0" cy="312.2" r="3.75"/><circle cx="1020.6" cy="311.5" r="3.75"/>
<circle cx="1011.8" cy="316.6" r="3.75"/><circle cx="1016.9" cy="320.2" r="3.75"/><circle cx="1022.0" cy="316.6" r="3.75"/><circle cx="1025.7" cy="320.2" r="3.75"/><circle cx="1031.5" cy="310.0" r="3.75"/><circle cx="1032.9" cy="312.9" r="3.75"/>
<circle cx="1029.3" cy="305.7" r="3.75"/><circle cx="1040.2" cy="304.9" r="3.75"/><circle cx="1059.9" cy="295.5" r="3.75"/><circle cx="1067.1" cy="294.0" r="3.75"/><circle cx="1062.8" cy="299.8" r="3.75"/><circle cx="1070.1" cy="302.0" r="3.75"/>
<circle cx="1081.7" cy="294.8" r="3.75"/><circle cx="1083.2" cy="299.8" r="3.75"/><circle cx="1075.2" cy="308.6" r="3.75"/><circle cx="1066.4" cy="307.1" r="3.75"/><circle cx="1060.6" cy="308.6" r="3.75"/><circle cx="1086.8" cy="310.0" r="3.75"/>
<circle cx="1086.8" cy="315.9" r="3.75"/><circle cx="1046.0" cy="308.6" r="3.75"/><circle cx="1049.7" cy="309.3" r="3.75"/><circle cx="1045.3" cy="312.9" r="3.75"/><circle cx="1054.8" cy="312.2" r="3.75"/><circle cx="1049.0" cy="317.3" r="3.75"/>
<circle cx="1050.4" cy="320.2" r="3.75"/><circle cx="1059.9" cy="315.9" r="3.75"/><circle cx="1062.8" cy="316.6" r="3.75"/><circle cx="1053.3" cy="324.6" r="3.75"/><circle cx="1059.9" cy="323.9" r="3.75"/><circle cx="1063.5" cy="326.0" r="3.75"/>
<circle cx="1047.5" cy="331.1" r="3.75"/><circle cx="994.4" cy="323.5" r="3.75"/><circle cx="1008.9" cy="326.0" r="3.75"/><circle cx="1011.1" cy="330.4" r="3.75"/><circle cx="1019.1" cy="326.0" r="3.75"/><circle cx="1025.7" cy="326.0" r="3.75"/>
<circle cx="1031.5" cy="327.5" r="3.75"/><circle cx="1036.6" cy="328.2" r="3.75"/><circle cx="1073.7" cy="326.0" r="3.75"/><circle cx="1082.4" cy="326.0" r="3.75"/><circle cx="1075.2" cy="329.7" r="3.75"/><circle cx="1086.8" cy="331.1" r="3.75"/>

</g>
<polygon class="band" points="758.4,296.1 768.2,296.1 778.0,296.2 787.7,296.3 797.5,296.4 807.3,296.5 817.1,296.6 826.9,296.6 836.6,296.7 846.4,296.8 856.2,296.9 866.0,296.9 875.8,297.0 885.6,297.0 895.3,297.1 905.1,297.1 914.9,297.2 924.7,297.2 934.5,297.2 944.2,297.2 954.0,297.2 963.8,297.2 973.6,297.1 983.4,297.0 993.1,296.9 1002.9,296.8 1012.7,296.6 1022.5,296.3 1032.3,295.9 1042.1,295.5 1051.8,294.9 1061.6,294.3 1071.4,293.5 1081.2,292.7 1091.0,291.7 1100.8,290.7 1110.5,289.6 1120.3,288.4 1130.1,287.2 1139.9,286.0 1149.7,284.8 1159.4,283.5 1169.2,282.2 1179.0,280.9 1188.8,279.6 1198.6,278.2 1208.3,276.9 1218.1,275.5 1227.9,274.2 1237.7,272.8 1247.5,271.4 1257.2,270.1 1267.0,268.7 1276.8,267.3 1286.6,265.9 1296.4,264.5 1306.2,263.1 1315.9,261.8 1325.7,260.4 1335.5,259.0 1335.5,305.6 1325.7,305.5 1315.9,305.4 1306.2,305.2 1296.4,305.1 1286.6,305.0 1276.8,304.9 1267.0,304.7 1257.2,304.6 1247.5,304.5 1237.7,304.4 1227.9,304.3 1218.1,304.2 1208.3,304.1 1198.6,304.0 1188.8,303.9 1179.0,303.8 1169.2,303.7 1159.4,303.6 1149.7,303.6 1139.9,303.5 1130.1,303.5 1120.3,303.4 1110.5,303.4 1100.8,303.5 1091.0,303.6 1081.2,303.7 1071.4,303.9 1061.6,304.2 1051.8,304.6 1042.1,305.2 1032.3,305.9 1022.5,306.8 1012.7,307.8 1002.9,308.8 993.1,309.9 983.4,311.1 973.6,312.4 963.8,313.6 954.0,314.9 944.2,316.2 934.5,317.5 924.7,318.8 914.9,320.2 905.1,321.5 895.3,322.9 885.6,324.2 875.8,325.6 866.0,326.9 856.2,328.3 846.4,329.7 836.6,331.0 826.9,332.4 817.1,333.8 807.3,335.2 797.5,336.5 787.7,337.9 778.0,339.3 768.2,340.7 758.4,342.1"/>
<line class="fit" x1="757.7" y1="315.9" x2="1336.2" y2="283.4"/>
<rect class="spine" x="729" y="84" width="635" height="406"/>
<g class="tb">
<rect x="1097.5" y="401.6" width="126.8" height="40.8"/><rect x="1224.3" y="401.6" width="127.3" height="40.8"/><rect x="1097.5" y="442.4" width="126.8" height="39.9"/><rect x="1224.3" y="442.4" width="127.3" height="39.9"/>
<text transform="translate(1161.20,416.90) scale(0.986,1)" font-size="16.67px" text-anchor="middle">Correlation</text><text transform="translate(1161.20,434.20) scale(0.998,1)" font-size="16.67px" text-anchor="middle">coefficient</text>
<text transform="translate(1287.85,416.90) scale(0.987,1)" font-size="16.67px" text-anchor="middle">Probability</text><text x="1287.85" y="434.20" font-size="16.67px" text-anchor="middle">of significance</text>
<text transform="translate(1161.20,466.60) scale(0.932,1)" font-size="17.3px" text-anchor="middle">0.096</text><text transform="translate(1288.05,466.60) scale(0.932,1)" font-size="17.3px" text-anchor="middle">0.885</text>
</g>
</g>
<g id="ax2">
<clipPath id="c2"><rect x="76" y="531" width="635" height="406"/></clipPath>
<text x="393.50" y="522.70" font-size="19.55px" text-anchor="middle">Inflation changes (negative)</text>
<g class="grid">
<line x1="163.5" y1="531" x2="163.5" y2="937"/><line x1="278.5" y1="531" x2="278.5" y2="937"/><line x1="394.5" y1="531" x2="394.5" y2="937"/><line x1="509.5" y1="531" x2="509.5" y2="937"/><line x1="624.5" y1="531" x2="624.5" y2="937"/><line x1="76" y1="928.5" x2="711" y2="928.5"/><line x1="76" y1="839.5" x2="711" y2="839.5"/><line x1="76" y1="751.5" x2="711" y2="751.5"/><line x1="76" y1="662.5" x2="711" y2="662.5"/><line x1="76" y1="574.5" x2="711" y2="574.5"/>
</g>
<g class="pts" clip-path="url(#c2)">
<circle cx="620.3" cy="549.3" r="3.75"/><circle cx="682.3" cy="611.5" r="3.75"/><circle cx="381.2" cy="629.5" r="3.75"/><circle cx="393.5" cy="646.2" r="3.75"/><circle cx="193.4" cy="694.5" r="3.75"/><circle cx="236.4" cy="712.5" r="3.75"/>
<circle cx="273.5" cy="680.5" r="3.75"/><circle cx="276.6" cy="707.3" r="3.75"/><circle cx="259.4" cy="724.3" r="3.75"/><circle cx="250.4" cy="730.3" r="3.75"/><circle cx="261.5" cy="733.5" r="3.75"/><circle cx="254.5" cy="738.5" r="3.75"/>
<circle cx="228.5" cy="740.4" r="3.75"/><circle cx="267.5" cy="748.0" r="3.75"/><circle cx="359.4" cy="650.6" r="3.75"/><circle cx="342.5" cy="658.2" r="3.75"/><circle cx="374.3" cy="663.4" r="3.75"/><circle cx="383.4" cy="661.4" r="3.75"/>
<circle cx="416.2" cy="667.5" r="3.75"/><circle cx="360.3" cy="673.3" r="3.75"/><circle cx="420.3" cy="677.4" r="3.75"/><circle cx="429.6" cy="676.2" r="3.75"/><circle cx="371.4" cy="680.5" r="3.75"/><circle cx="356.9" cy="681.4" r="3.75"/>
<circle cx="356.3" cy="683.2" r="3.75"/><circle cx="344.4" cy="683.4" r="3.75"/><circle cx="292.5" cy="682.3" r="3.75"/><circle cx="304.5" cy="681.4" r="3.75"/><circle cx="313.5" cy="687.3" r="3.75"/><circle cx="384.5" cy="686.4" r="3.75"/>
<circle cx="398.2" cy="680.5" r="3.75"/><circle cx="397.6" cy="682.0" r="3.75"/><circle cx="424.4" cy="684.4" r="3.75"/><circle cx="424.4" cy="687.3" r="3.75"/><circle cx="338.5" cy="691.3" r="3.75"/><circle cx="376.1" cy="689.6" r="3.75"/>
<circle cx="375.5" cy="690.8" r="3.75"/><circle cx="417.4" cy="691.3" r="3.75"/><circle cx="401.1" cy="693.3" r="3.75"/><circle cx="398.8" cy="695.4" r="3.75"/><circle cx="426.1" cy="694.3" r="3.75"/><circle cx="427.7" cy="697.5" r="3.75"/>
<circle cx="359.5" cy="695.4" r="3.75"/><circle cx="380.4" cy="696.6" r="3.75"/><circle cx="289.5" cy="706.5" r="3.75"/><circle cx="290.5" cy="714.4" r="3.75"/><circle cx="318.4" cy="710.3" r="3.75"/><circle cx="325.4" cy="711.1" r="3.75"/>
<circle cx="331.2" cy="709.4" r="3.75"/><circle cx="335.7" cy="710.6" r="3.75"/><circle cx="328.3" cy="717.5" r="3.75"/><circle cx="336.7" cy="718.5" r="3.75"/><circle cx="344.4" cy="712.3" r="3.75"/><circle cx="333.3" cy="723.4" r="3.75"/>
<circle cx="282.3" cy="728.3" r="3.75"/><circle cx="327.2" cy="736.4" r="3.75"/><circle cx="345.2" cy="736.2" r="3.75"/><circle cx="348.7" cy="735.2" r="3.75"/><circle cx="337.1" cy="744.3" r="3.75"/><circle cx="343.5" cy="746.1" r="3.75"/>
<circle cx="329.5" cy="747.6" r="3.75"/><circle cx="312.4" cy="747.2" r="3.75"/><circle cx="286.4" cy="754.8" r="3.75"/><circle cx="301.3" cy="757.1" r="3.75"/><circle cx="330.3" cy="755.4" r="3.75"/><circle cx="319.4" cy="758.9" r="3.75"/>
<circle cx="337.1" cy="760.6" r="3.75"/><circle cx="559.4" cy="651.7" r="3.75"/><circle cx="450.5" cy="665.5" r="3.75"/><circle cx="483.3" cy="670.4" r="3.75"/><circle cx="463.5" cy="680.5" r="3.75"/><circle cx="443.5" cy="681.4" r="3.75"/>
<circle cx="443.5" cy="684.9" r="3.75"/><circle cx="445.5" cy="692.5" r="3.75"/><circle cx="477.3" cy="695.4" r="3.75"/><circle cx="517.4" cy="683.5" r="3.75"/><circle cx="472.4" cy="708.5" r="3.75"/><circle cx="489.5" cy="711.4" r="3.75"/>
<circle cx="458.4" cy="718.4" r="3.75"/><circle cx="451.1" cy="726.5" r="3.75"/><circle cx="459.2" cy="732.1" r="3.75"/><circle cx="469.3" cy="730.3" r="3.75"/><circle cx="499.4" cy="727.4" r="3.75"/><circle cx="514.5" cy="721.3" r="3.75"/>
<circle cx="539.6" cy="722.4" r="3.75"/><circle cx="543.6" cy="723.4" r="3.75"/><circle cx="540.1" cy="726.3" r="3.75"/><circle cx="512.2" cy="732.1" r="3.75"/><circle cx="515.7" cy="735.6" r="3.75"/><circle cx="459.8" cy="737.1" r="3.75"/>
<circle cx="452.8" cy="739.7" r="3.75"/><circle cx="474.4" cy="746.4" r="3.75"/><circle cx="518.3" cy="742.6" r="3.75"/><circle cx="531.4" cy="753.1" r="3.75"/><circle cx="498.5" cy="755.4" r="3.75"/><circle cx="476.4" cy="758.3" r="3.75"/>
<circle cx="463.3" cy="761.8" r="3.75"/><circle cx="553.5" cy="762.0" r="3.75"/><circle cx="659.3" cy="745.3" r="3.75"/><circle cx="230.4" cy="767.5" r="3.75"/><circle cx="199.4" cy="790.5" r="3.75"/><circle cx="211.4" cy="791.5" r="3.75"/>
<circle cx="255.1" cy="794.3" r="3.75"/><circle cx="258.6" cy="796.4" r="3.75"/><circle cx="275.5" cy="772.5" r="3.75"/><circle cx="136.4" cy="842.3" r="3.75"/><circle cx="291.3" cy="763.7" r="3.75"/><circle cx="301.5" cy="768.4" r="3.75"/>
<circle cx="282.3" cy="771.3" r="3.75"/><circle cx="336.5" cy="770.4" r="3.75"/><circle cx="340.3" cy="784.4" r="3.75"/><circle cx="347.5" cy="791.3" r="3.75"/><circle cx="321.3" cy="802.4" r="3.75"/><circle cx="338.5" cy="802.4" r="3.75"/>
<circle cx="345.4" cy="806.5" r="3.75"/><circle cx="360.3" cy="812.4" r="3.75"/><circle cx="357.4" cy="826.4" r="3.75"/><circle cx="341.5" cy="834.4" r="3.75"/><circle cx="313.4" cy="837.5" r="3.75"/><circle cx="357.4" cy="839.4" r="3.75"/>
<circle cx="380.4" cy="837.5" r="3.75"/><circle cx="390.4" cy="834.2" r="3.75"/><circle cx="405.4" cy="820.5" r="3.75"/><circle cx="425.6" cy="834.4" r="3.75"/><circle cx="435.5" cy="828.4" r="3.75"/><circle cx="439.5" cy="859.6" r="3.75"/>
<circle cx="359.2" cy="777.7" r="3.75"/><circle cx="359.8" cy="778.5" r="3.75"/><circle cx="359.2" cy="783.5" r="3.75"/><circle cx="362.4" cy="788.8" r="3.75"/><circle cx="367.9" cy="783.5" r="3.75"/><circle cx="369.7" cy="783.0" r="3.75"/>
<circle cx="379.6" cy="782.4" r="3.75"/><circle cx="384.8" cy="783.0" r="3.75"/><circle cx="384.2" cy="785.9" r="3.75"/><circle cx="390.6" cy="779.5" r="3.75"/><circle cx="395.9" cy="780.0" r="3.75"/><circle cx="372.3" cy="794.0" r="3.75"/>
<circle cx="375.5" cy="799.3" r="3.75"/><circle cx="378.6" cy="806.5" r="3.75"/><circle cx="388.5" cy="803.3" r="3.75"/><circle cx="397.0" cy="789.4" r="3.75"/><circle cx="398.8" cy="791.7" r="3.75"/><circle cx="401.5" cy="806.5" r="3.75"/>
<circle cx="403.4" cy="775.4" r="3.75"/><circle cx="431.4" cy="778.3" r="3.75"/><circle cx="432.0" cy="779.0" r="3.75"/><circle cx="427.9" cy="779.5" r="3.75"/><circle cx="421.3" cy="783.3" r="3.75"/><circle cx="427.7" cy="786.5" r="3.75"/>
<circle cx="414.5" cy="785.9" r="3.75"/><circle cx="408.1" cy="788.8" r="3.75"/><circle cx="407.5" cy="791.7" r="3.75"/><circle cx="408.1" cy="792.5" r="3.75"/><circle cx="405.8" cy="794.6" r="3.75"/><circle cx="416.2" cy="794.3" r="3.75"/>
<circle cx="409.3" cy="800.4" r="3.75"/><circle cx="414.5" cy="800.4" r="3.75"/><circle cx="419.4" cy="806.5" r="3.75"/><circle cx="435.5" cy="795.4" r="3.75"/><circle cx="500.3" cy="768.4" r="3.75"/><circle cx="493.6" cy="777.1" r="3.75"/>
<circle cx="489.5" cy="780.4" r="3.75"/><circle cx="472.6" cy="790.3" r="3.75"/><circle cx="455.5" cy="773.3" r="3.75"/><circle cx="446.4" cy="782.4" r="3.75"/><circle cx="496.5" cy="804.5" r="3.75"/><circle cx="520.3" cy="804.5" r="3.75"/>
<circle cx="531.4" cy="809.4" r="3.75"/><circle cx="489.5" cy="822.3" r="3.75"/><circle cx="566.3" cy="839.2" r="3.75"/><circle cx="476.4" cy="843.2" r="3.75"/><circle cx="456.3" cy="847.6" r="3.75"/><circle cx="375.5" cy="918.5" r="3.75"/>
<circle cx="380.6" cy="715.6" r="3.75"/><circle cx="385.2" cy="719.1" r="3.75"/><circle cx="389.9" cy="716.8" r="3.75"/><circle cx="394.5" cy="719.1" r="3.75"/><circle cx="400.3" cy="729.6" r="3.75"/><circle cx="401.5" cy="734.3" r="3.75"/>
<circle cx="403.8" cy="720.3" r="3.75"/><circle cx="408.5" cy="717.9" r="3.75"/><circle cx="372.4" cy="724.9" r="3.75"/><circle cx="375.9" cy="727.3" r="3.75"/><circle cx="381.7" cy="759.9" r="3.75"/><circle cx="385.2" cy="757.5" r="3.75"/>
<circle cx="387.5" cy="764.5" r="3.75"/><circle cx="382.9" cy="765.7" r="3.75"/><circle cx="389.9" cy="761.0" r="3.75"/><circle cx="363.1" cy="765.7" r="3.75"/><circle cx="366.6" cy="768.0" r="3.75"/><circle cx="365.4" cy="764.5" r="3.75"/>
<circle cx="359.6" cy="743.6" r="3.75"/><circle cx="366.6" cy="742.4" r="3.75"/><circle cx="371.2" cy="744.7" r="3.75"/><circle cx="374.7" cy="741.2" r="3.75"/><circle cx="431.8" cy="734.3" r="3.75"/><circle cx="401.5" cy="758.7" r="3.75"/>
<circle cx="406.2" cy="755.2" r="3.75"/><circle cx="396.9" cy="764.5" r="3.75"/><circle cx="420.1" cy="748.2" r="3.75"/><circle cx="417.8" cy="741.2" r="3.75"/><circle cx="358.4" cy="776.2" r="3.75"/><circle cx="429.5" cy="777.3" r="3.75"/>
<circle cx="384.0" cy="783.2" r="3.75"/><circle cx="407.3" cy="790.1" r="3.75"/><circle cx="391.0" cy="735.4" r="3.75"/><circle cx="394.5" cy="736.6" r="3.75"/><circle cx="385.2" cy="770.3" r="3.75"/><circle cx="388.7" cy="769.2" r="3.75"/>
<circle cx="360.2" cy="714.1" r="3.75"/><circle cx="367.5" cy="714.1" r="3.75"/><circle cx="389.7" cy="710.8" r="3.75"/><circle cx="397.7" cy="707.5" r="3.75"/><circle cx="411.4" cy="707.5" r="3.75"/><circle cx="419.5" cy="711.2" r="3.75"/>
<circle cx="382.0" cy="715.2" r="3.75"/><circle cx="384.9" cy="718.1" r="3.75"/><circle cx="400.9" cy="715.2" r="3.75"/><circle cx="409.7" cy="716.6" r="3.75"/><circle cx="443.9" cy="713.4" r="3.75"/><circle cx="448.3" cy="708.6" r="3.75"/>
<circle cx="356.9" cy="720.6" r="3.75"/><circle cx="357.3" cy="723.9" r="3.75"/><circle cx="350.4" cy="725.0" r="3.75"/><circle cx="373.3" cy="722.1" r="3.75"/><circle cx="374.7" cy="726.1" r="3.75"/><circle cx="382.0" cy="723.9" r="3.75"/>
<circle cx="389.3" cy="719.6" r="3.75"/><circle cx="395.1" cy="717.4" r="3.75"/><circle cx="400.2" cy="721.0" r="3.75"/><circle cx="405.3" cy="719.6" r="3.75"/><circle cx="411.1" cy="720.3" r="3.75"/><circle cx="414.8" cy="721.4" r="3.75"/>
<circle cx="424.2" cy="721.4" r="3.75"/><circle cx="418.4" cy="726.1" r="3.75"/><circle cx="400.9" cy="726.8" r="3.75"/><circle cx="444.6" cy="724.7" r="3.75"/><circle cx="447.5" cy="721.0" r="3.75"/><circle cx="360.9" cy="730.5" r="3.75"/>
<circle cx="363.8" cy="731.9" r="3.75"/><circle cx="364.2" cy="732.5" r="3.75"/><circle cx="350.7" cy="734.8" r="3.75"/><circle cx="382.8" cy="730.5" r="3.75"/><circle cx="387.8" cy="733.4" r="3.75"/><circle cx="391.5" cy="734.8" r="3.75"/>
<circle cx="396.6" cy="735.6" r="3.75"/><circle cx="400.9" cy="730.5" r="3.75"/><circle cx="402.4" cy="732.7" r="3.75"/><circle cx="416.2" cy="729.7" r="3.75"/><circle cx="419.1" cy="735.6" r="3.75"/><circle cx="431.1" cy="733.4" r="3.75"/>
<circle cx="433.0" cy="734.1" r="3.75"/><circle cx="437.3" cy="734.1" r="3.75"/><circle cx="443.2" cy="731.9" r="3.75"/><circle cx="446.1" cy="729.7" r="3.75"/><circle cx="359.5" cy="741.4" r="3.75"/><circle cx="366.7" cy="740.7" r="3.75"/>
<circle cx="369.7" cy="739.9" r="3.75"/><circle cx="384.2" cy="740.7" r="3.75"/><circle cx="393.7" cy="738.5" r="3.75"/><circle cx="399.5" cy="739.9" r="3.75"/><circle cx="409.7" cy="739.2" r="3.75"/><circle cx="419.9" cy="739.2" r="3.75"/>
<circle cx="422.8" cy="741.4" r="3.75"/><circle cx="432.2" cy="739.2" r="3.75"/><circle cx="450.0" cy="741.4" r="3.75"/><circle cx="355.1" cy="745.8" r="3.75"/><circle cx="361.6" cy="748.7" r="3.75"/><circle cx="374.0" cy="746.5" r="3.75"/>
<circle cx="380.6" cy="747.2" r="3.75"/><circle cx="393.7" cy="748.7" r="3.75"/><circle cx="400.2" cy="747.9" r="3.75"/><circle cx="406.0" cy="748.7" r="3.75"/><circle cx="419.1" cy="747.9" r="3.75"/><circle cx="421.3" cy="749.4" r="3.75"/>
<circle cx="430.1" cy="750.9" r="3.75"/><circle cx="364.6" cy="751.6" r="3.75"/><circle cx="386.4" cy="751.6" r="3.75"/><circle cx="357.3" cy="755.2" r="3.75"/><circle cx="360.9" cy="758.9" r="3.75"/><circle cx="368.2" cy="755.9" r="3.75"/>
<circle cx="374.7" cy="756.7" r="3.75"/><circle cx="381.3" cy="755.9" r="3.75"/><circle cx="384.2" cy="757.4" r="3.75"/><circle cx="386.4" cy="760.3" r="3.75"/><circle cx="390.8" cy="755.2" r="3.75"/><circle cx="397.3" cy="755.9" r="3.75"/>
<circle cx="402.4" cy="757.4" r="3.75"/><circle cx="408.2" cy="754.5" r="3.75"/><circle cx="412.6" cy="755.9" r="3.75"/><circle cx="417.0" cy="755.2" r="3.75"/><circle cx="423.5" cy="754.5" r="3.75"/><circle cx="433.7" cy="755.9" r="3.75"/>
<circle cx="432.2" cy="759.6" r="3.75"/><circle cx="442.4" cy="761.8" r="3.75"/><circle cx="352.2" cy="769.0" r="3.75"/><circle cx="360.9" cy="767.6" r="3.75"/><circle cx="363.8" cy="769.0" r="3.75"/><circle cx="367.5" cy="764.7" r="3.75"/>
<circle cx="376.2" cy="763.2" r="3.75"/><circle cx="382.0" cy="764.0" r="3.75"/><circle cx="384.9" cy="766.9" r="3.75"/><circle cx="389.3" cy="763.2" r="3.75"/><circle cx="389.3" cy="769.0" r="3.75"/><circle cx="398.0" cy="765.4" r="3.75"/>
<circle cx="411.9" cy="762.5" r="3.75"/><circle cx="418.4" cy="763.2" r="3.75"/><circle cx="419.1" cy="766.9" r="3.75"/><circle cx="422.8" cy="769.8" r="3.75"/><circle cx="412.6" cy="770.5" r="3.75"/><circle cx="441.0" cy="769.0" r="3.75"/>
<circle cx="357.3" cy="774.1" r="3.75"/><circle cx="374.0" cy="773.4" r="3.75"/><circle cx="380.6" cy="772.7" r="3.75"/><circle cx="403.1" cy="774.1" r="3.75"/><circle cx="430.8" cy="773.4" r="3.75"/><circle cx="444.6" cy="773.4" r="3.75"/>

</g>
<polygon class="band" points="136.3,729.9 145.6,730.5 154.8,731.0 164.1,731.6 173.3,732.2 182.6,732.7 191.9,733.3 201.1,733.9 210.4,734.4 219.7,735.0 228.9,735.5 238.2,736.0 247.4,736.6 256.7,737.1 266.0,737.6 275.2,738.1 284.5,738.6 293.8,739.1 303.0,739.5 312.3,739.9 321.6,740.3 330.8,740.6 340.1,740.9 349.3,741.1 358.6,741.3 367.9,741.3 377.1,741.2 386.4,740.9 395.7,740.5 404.9,740.0 414.2,739.2 423.4,738.4 432.7,737.5 442.0,736.5 451.2,735.4 460.5,734.2 469.8,733.0 479.0,731.8 488.3,730.5 497.6,729.3 506.8,728.0 516.1,726.6 525.3,725.3 534.6,724.0 543.9,722.6 553.1,721.3 562.4,719.9 571.6,718.6 580.9,717.2 590.2,715.8 599.4,714.5 608.7,713.1 618.0,711.7 627.2,710.3 636.5,708.9 645.8,707.5 655.0,706.2 664.3,704.8 673.5,703.4 682.8,702.0 682.8,766.0 673.5,765.3 664.3,764.7 655.0,764.1 645.8,763.5 636.5,762.9 627.2,762.3 618.0,761.7 608.7,761.1 599.4,760.5 590.2,759.9 580.9,759.3 571.6,758.7 562.4,758.1 553.1,757.5 543.9,757.0 534.6,756.4 525.3,755.9 516.1,755.3 506.8,754.8 497.6,754.3 488.3,753.8 479.0,753.3 469.8,752.8 460.5,752.4 451.2,752.1 442.0,751.8 432.7,751.5 423.4,751.4 414.2,751.3 404.9,751.4 395.7,751.6 386.4,752.0 377.1,752.5 367.9,753.2 358.6,754.0 349.3,754.9 340.1,755.9 330.8,757.0 321.6,758.1 312.3,759.2 303.0,760.4 293.8,761.6 284.5,762.9 275.2,764.1 266.0,765.4 256.7,766.7 247.4,768.0 238.2,769.3 228.9,770.6 219.7,771.9 210.4,773.2 201.1,774.5 191.9,775.9 182.6,777.2 173.3,778.5 164.1,779.9 154.8,781.2 145.6,782.6 136.3,783.9"/>
<line class="fit" x1="135.6" y1="758.0" x2="683.5" y2="731.3"/>
<rect class="spine" x="76" y="531" width="635" height="406"/>
<text transform="translate(63.40,934.00) scale(0.91,1)" font-size="15.9px" text-anchor="end">−10</text><text transform="translate(63.40,845.00) scale(0.91,1)" font-size="15.9px" text-anchor="end">−5</text><text transform="translate(63.40,756.00) scale(0.91,1)" font-size="15.9px" text-anchor="end">0</text><text transform="translate(63.40,668.00) scale(0.91,1)" font-size="15.9px" text-anchor="end">5</text><text transform="translate(63.40,579.00) scale(0.91,1)" font-size="15.9px" text-anchor="end">10</text>
<text transform="translate(163.50,960.90) scale(0.91,1)" font-size="15.9px" text-anchor="middle">−4</text><text transform="translate(278.50,960.90) scale(0.91,1)" font-size="15.9px" text-anchor="middle">−2</text><text transform="translate(394.50,960.90) scale(0.91,1)" font-size="15.9px" text-anchor="middle">0</text><text transform="translate(509.50,960.90) scale(0.91,1)" font-size="15.9px" text-anchor="middle">2</text><text transform="translate(624.50,960.90) scale(0.91,1)" font-size="15.9px" text-anchor="middle">4</text>
<g class="tb">
<rect x="444.5" y="848.45" width="126.9" height="39.9"/><rect x="571.4" y="848.45" width="127.1" height="39.9"/><rect x="444.5" y="888.4" width="126.9" height="41.1"/><rect x="571.4" y="888.4" width="127.1" height="41.1"/>
<text transform="translate(508.25,863.50) scale(0.986,1)" font-size="16.67px" text-anchor="middle">Correlation</text><text transform="translate(508.25,880.70) scale(0.998,1)" font-size="16.67px" text-anchor="middle">coefficient</text>
<text transform="translate(634.85,863.50) scale(0.987,1)" font-size="16.67px" text-anchor="middle">Probability</text><text x="634.85" y="880.70" font-size="16.67px" text-anchor="middle">of significance</text>
<text transform="translate(508.25,913.00) scale(0.932,1)" font-size="17.3px" text-anchor="middle">0.075</text><text transform="translate(635.05,913.00) scale(0.932,1)" font-size="17.3px" text-anchor="middle">0.801</text>
</g>
</g>
<g id="ax3">
<clipPath id="c3"><rect x="729" y="531" width="635" height="406"/></clipPath>
<text x="1046.50" y="522.70" font-size="19.55px" text-anchor="middle">Labor tightening changes (negative)</text>
<g class="grid">
<line x1="816.5" y1="531" x2="816.5" y2="937"/><line x1="931.5" y1="531" x2="931.5" y2="937"/><line x1="1047.5" y1="531" x2="1047.5" y2="937"/><line x1="1162.5" y1="531" x2="1162.5" y2="937"/><line x1="1277.5" y1="531" x2="1277.5" y2="937"/><line x1="729" y1="928.5" x2="1364" y2="928.5"/><line x1="729" y1="839.5" x2="1364" y2="839.5"/><line x1="729" y1="751.5" x2="1364" y2="751.5"/><line x1="729" y1="662.5" x2="1364" y2="662.5"/><line x1="729" y1="574.5" x2="1364" y2="574.5"/>
</g>
<g class="pts" clip-path="url(#c3)">
<circle cx="1235.2" cy="549.3" r="3.75"/><circle cx="1305.5" cy="611.5" r="3.75"/><circle cx="798.5" cy="691.4" r="3.75"/><circle cx="794.4" cy="710.4" r="3.75"/><circle cx="844.5" cy="707.3" r="3.75"/><circle cx="860.5" cy="712.3" r="3.75"/>
<circle cx="897.2" cy="721.5" r="3.75"/><circle cx="795.5" cy="730.4" r="3.75"/><circle cx="846.3" cy="728.3" r="3.75"/><circle cx="1033.6" cy="629.5" r="3.75"/><circle cx="1032.5" cy="649.5" r="3.75"/><circle cx="974.5" cy="663.3" r="3.75"/>
<circle cx="910.5" cy="677.3" r="3.75"/><circle cx="950.3" cy="682.5" r="3.75"/><circle cx="946.5" cy="689.4" r="3.75"/><circle cx="1001.5" cy="673.3" r="3.75"/><circle cx="1011.4" cy="670.3" r="3.75"/><circle cx="1011.4" cy="683.5" r="3.75"/>
<circle cx="1007.4" cy="687.3" r="3.75"/><circle cx="1043.2" cy="667.2" r="3.75"/><circle cx="1052.0" cy="660.8" r="3.75"/><circle cx="1051.4" cy="665.4" r="3.75"/><circle cx="1041.5" cy="676.2" r="3.75"/><circle cx="1040.3" cy="683.5" r="3.75"/>
<circle cx="1047.3" cy="681.1" r="3.75"/><circle cx="1050.8" cy="680.3" r="3.75"/><circle cx="1052.0" cy="691.6" r="3.75"/><circle cx="1052.5" cy="692.4" r="3.75"/><circle cx="1050.8" cy="694.5" r="3.75"/><circle cx="1058.4" cy="695.7" r="3.75"/>
<circle cx="902.7" cy="711.4" r="3.75"/><circle cx="938.4" cy="718.4" r="3.75"/><circle cx="968.5" cy="722.5" r="3.75"/><circle cx="972.2" cy="731.2" r="3.75"/><circle cx="987.3" cy="719.2" r="3.75"/><circle cx="992.0" cy="720.1" r="3.75"/>
<circle cx="997.6" cy="714.9" r="3.75"/><circle cx="998.2" cy="715.7" r="3.75"/><circle cx="1191.5" cy="646.4" r="3.75"/><circle cx="1089.3" cy="651.4" r="3.75"/><circle cx="1074.4" cy="658.2" r="3.75"/><circle cx="1082.5" cy="680.3" r="3.75"/>
<circle cx="1110.3" cy="681.4" r="3.75"/><circle cx="1064.1" cy="680.6" r="3.75"/><circle cx="1064.7" cy="681.5" r="3.75"/><circle cx="1074.0" cy="684.0" r="3.75"/><circle cx="1074.6" cy="684.9" r="3.75"/><circle cx="1069.9" cy="681.7" r="3.75"/>
<circle cx="1065.2" cy="689.9" r="3.75"/><circle cx="1065.8" cy="693.4" r="3.75"/><circle cx="1062.3" cy="697.4" r="3.75"/><circle cx="1098.4" cy="694.9" r="3.75"/><circle cx="1099.0" cy="695.7" r="3.75"/><circle cx="1105.4" cy="695.5" r="3.75"/>
<circle cx="1110.4" cy="692.4" r="3.75"/><circle cx="1119.4" cy="714.3" r="3.75"/><circle cx="1155.5" cy="711.4" r="3.75"/><circle cx="1179.4" cy="696.5" r="3.75"/><circle cx="1175.3" cy="710.5" r="3.75"/><circle cx="1201.5" cy="712.3" r="3.75"/>
<circle cx="1194.5" cy="717.5" r="3.75"/><circle cx="1130.5" cy="721.5" r="3.75"/><circle cx="1142.4" cy="723.4" r="3.75"/><circle cx="1118.2" cy="724.5" r="3.75"/><circle cx="1121.7" cy="723.3" r="3.75"/><circle cx="1104.5" cy="726.2" r="3.75"/>
<circle cx="1247.5" cy="687.5" r="3.75"/><circle cx="1282.4" cy="730.0" r="3.75"/><circle cx="758.4" cy="740.4" r="3.75"/><circle cx="887.3" cy="744.2" r="3.75"/><circle cx="892.5" cy="746.0" r="3.75"/><circle cx="863.4" cy="751.4" r="3.75"/>
<circle cx="881.5" cy="751.4" r="3.75"/><circle cx="882.3" cy="767.5" r="3.75"/><circle cx="869.4" cy="777.4" r="3.75"/><circle cx="882.3" cy="783.5" r="3.75"/><circle cx="823.4" cy="779.4" r="3.75"/><circle cx="835.5" cy="790.5" r="3.75"/>
<circle cx="867.5" cy="795.5" r="3.75"/><circle cx="816.3" cy="842.0" r="3.75"/><circle cx="901.2" cy="740.2" r="3.75"/><circle cx="936.4" cy="737.5" r="3.75"/><circle cx="932.4" cy="745.7" r="3.75"/><circle cx="957.4" cy="736.1" r="3.75"/>
<circle cx="958.2" cy="740.4" r="3.75"/><circle cx="993.2" cy="750.6" r="3.75"/><circle cx="977.4" cy="763.4" r="3.75"/><circle cx="917.5" cy="772.4" r="3.75"/><circle cx="1013.5" cy="778.6" r="3.75"/><circle cx="1012.4" cy="782.3" r="3.75"/>
<circle cx="998.4" cy="735.5" r="3.75"/><circle cx="1029.3" cy="783.2" r="3.75"/><circle cx="1035.1" cy="790.2" r="3.75"/><circle cx="1041.5" cy="786.1" r="3.75"/><circle cx="1039.7" cy="791.4" r="3.75"/><circle cx="1044.4" cy="796.0" r="3.75"/>
<circle cx="1047.9" cy="799.0" r="3.75"/><circle cx="1040.9" cy="778.6" r="3.75"/><circle cx="1052.5" cy="782.1" r="3.75"/><circle cx="1054.3" cy="789.3" r="3.75"/><circle cx="1059.5" cy="782.1" r="3.75"/><circle cx="991.4" cy="803.3" r="3.75"/>
<circle cx="996.7" cy="804.4" r="3.75"/><circle cx="1017.4" cy="802.5" r="3.75"/><circle cx="1026.3" cy="800.1" r="3.75"/><circle cx="1027.3" cy="806.5" r="3.75"/><circle cx="1034.5" cy="804.4" r="3.75"/><circle cx="1039.7" cy="806.5" r="3.75"/>
<circle cx="1044.4" cy="806.5" r="3.75"/><circle cx="1019.4" cy="812.3" r="3.75"/><circle cx="1041.5" cy="820.5" r="3.75"/><circle cx="1021.5" cy="828.4" r="3.75"/><circle cx="1013.5" cy="834.5" r="3.75"/><circle cx="1041.5" cy="839.1" r="3.75"/>
<circle cx="1051.4" cy="834.5" r="3.75"/><circle cx="1058.0" cy="806.5" r="3.75"/><circle cx="1059.0" cy="836.8" r="3.75"/><circle cx="1103.4" cy="735.5" r="3.75"/><circle cx="1116.5" cy="736.1" r="3.75"/><circle cx="1125.4" cy="737.2" r="3.75"/>
<circle cx="1138.4" cy="738.4" r="3.75"/><circle cx="1114.4" cy="742.2" r="3.75"/><circle cx="1107.5" cy="748.3" r="3.75"/><circle cx="1127.5" cy="748.3" r="3.75"/><circle cx="1198.0" cy="746.6" r="3.75"/><circle cx="1198.6" cy="748.3" r="3.75"/>
<circle cx="1103.3" cy="755.9" r="3.75"/><circle cx="1109.8" cy="753.2" r="3.75"/><circle cx="1129.5" cy="757.4" r="3.75"/><circle cx="1144.7" cy="758.2" r="3.75"/><circle cx="1138.3" cy="762.5" r="3.75"/><circle cx="1101.3" cy="771.0" r="3.75"/>
<circle cx="1101.9" cy="771.8" r="3.75"/><circle cx="1102.5" cy="768.3" r="3.75"/><circle cx="1106.8" cy="769.5" r="3.75"/><circle cx="1086.6" cy="775.4" r="3.75"/><circle cx="1063.5" cy="782.1" r="3.75"/><circle cx="1064.1" cy="782.9" r="3.75"/>
<circle cx="1070.5" cy="779.7" r="3.75"/><circle cx="1073.7" cy="784.4" r="3.75"/><circle cx="1071.3" cy="788.5" r="3.75"/><circle cx="1064.1" cy="794.3" r="3.75"/><circle cx="1064.7" cy="795.1" r="3.75"/><circle cx="1133.4" cy="786.4" r="3.75"/>
<circle cx="1164.5" cy="785.2" r="3.75"/><circle cx="1164.2" cy="789.1" r="3.75"/><circle cx="1171.4" cy="794.5" r="3.75"/><circle cx="1204.4" cy="791.4" r="3.75"/><circle cx="1086.6" cy="802.5" r="3.75"/><circle cx="1065.5" cy="826.3" r="3.75"/>
<circle cx="1096.4" cy="834.5" r="3.75"/><circle cx="1066.4" cy="837.0" r="3.75"/><circle cx="1070.5" cy="842.6" r="3.75"/><circle cx="1214.3" cy="839.1" r="3.75"/><circle cx="1239.5" cy="757.4" r="3.75"/><circle cx="1230.4" cy="791.4" r="3.75"/>
<circle cx="1260.3" cy="809.4" r="3.75"/><circle cx="1258.3" cy="822.5" r="3.75"/><circle cx="1335.4" cy="750.6" r="3.75"/><circle cx="1335.4" cy="753.2" r="3.75"/><circle cx="901.4" cy="860.5" r="3.75"/><circle cx="1054.4" cy="859.6" r="3.75"/>
<circle cx="1090.4" cy="918.2" r="3.75"/><circle cx="1040.3" cy="772.0" r="3.75"/><circle cx="1043.8" cy="776.7" r="3.75"/><circle cx="1048.5" cy="773.2" r="3.75"/><circle cx="1041.5" cy="780.1" r="3.75"/><circle cx="1053.2" cy="781.3" r="3.75"/>
<circle cx="1034.5" cy="769.7" r="3.75"/><circle cx="1050.8" cy="784.8" r="3.75"/><circle cx="1061.3" cy="787.1" r="3.75"/><circle cx="1064.8" cy="782.5" r="3.75"/><circle cx="1039.2" cy="717.3" r="3.75"/><circle cx="1041.5" cy="713.8" r="3.75"/>
<circle cx="1055.5" cy="719.6" r="3.75"/><circle cx="1057.8" cy="726.6" r="3.75"/><circle cx="1076.4" cy="760.3" r="3.75"/><circle cx="1081.1" cy="756.9" r="3.75"/><circle cx="1060.1" cy="761.5" r="3.75"/><circle cx="1062.5" cy="759.2" r="3.75"/>
<circle cx="1048.5" cy="718.4" r="3.75"/><circle cx="1052.0" cy="723.1" r="3.75"/><circle cx="1070.6" cy="732.4" r="3.75"/><circle cx="1023.4" cy="709.5" r="3.75"/><circle cx="1042.6" cy="707.5" r="3.75"/><circle cx="1050.6" cy="711.2" r="3.75"/>
<circle cx="1068.4" cy="707.2" r="3.75"/><circle cx="1072.8" cy="712.3" r="3.75"/><circle cx="1073.1" cy="712.9" r="3.75"/><circle cx="1082.6" cy="709.4" r="3.75"/><circle cx="1089.5" cy="708.3" r="3.75"/><circle cx="1000.0" cy="714.8" r="3.75"/>
<circle cx="1040.8" cy="717.0" r="3.75"/><circle cx="1045.1" cy="718.1" r="3.75"/><circle cx="1045.5" cy="718.7" r="3.75"/><circle cx="1050.9" cy="715.9" r="3.75"/><circle cx="1054.6" cy="718.1" r="3.75"/><circle cx="1058.2" cy="720.3" r="3.75"/>
<circle cx="1049.5" cy="722.5" r="3.75"/><circle cx="1047.3" cy="726.1" r="3.75"/><circle cx="1056.8" cy="727.6" r="3.75"/><circle cx="1069.1" cy="720.3" r="3.75"/><circle cx="1074.2" cy="721.7" r="3.75"/><circle cx="1076.4" cy="725.4" r="3.75"/>
<circle cx="1081.5" cy="725.4" r="3.75"/><circle cx="1092.4" cy="718.1" r="3.75"/><circle cx="1093.9" cy="722.5" r="3.75"/><circle cx="1099.0" cy="726.1" r="3.75"/><circle cx="1012.0" cy="725.0" r="3.75"/><circle cx="1019.3" cy="724.1" r="3.75"/>
<circle cx="1026.6" cy="724.1" r="3.75"/><circle cx="1001.5" cy="726.8" r="3.75"/><circle cx="1006.6" cy="733.4" r="3.75"/><circle cx="1015.6" cy="734.1" r="3.75"/><circle cx="1016.0" cy="734.6" r="3.75"/><circle cx="1022.6" cy="730.5" r="3.75"/>
<circle cx="1026.9" cy="729.7" r="3.75"/><circle cx="1032.0" cy="729.7" r="3.75"/><circle cx="1033.5" cy="732.7" r="3.75"/><circle cx="1042.2" cy="731.2" r="3.75"/><circle cx="1047.3" cy="732.7" r="3.75"/><circle cx="1051.7" cy="733.4" r="3.75"/>
<circle cx="1069.9" cy="731.2" r="3.75"/><circle cx="1070.2" cy="731.7" r="3.75"/><circle cx="1072.8" cy="732.7" r="3.75"/><circle cx="1075.7" cy="733.4" r="3.75"/><circle cx="1067.7" cy="736.3" r="3.75"/><circle cx="1072.8" cy="736.3" r="3.75"/>
<circle cx="1022.6" cy="741.4" r="3.75"/><circle cx="1031.3" cy="740.7" r="3.75"/><circle cx="1036.4" cy="742.8" r="3.75"/><circle cx="1046.6" cy="739.2" r="3.75"/><circle cx="1050.9" cy="741.4" r="3.75"/><circle cx="1055.3" cy="742.1" r="3.75"/>
<circle cx="1059.7" cy="741.4" r="3.75"/><circle cx="1062.6" cy="743.6" r="3.75"/><circle cx="1079.3" cy="743.6" r="3.75"/><circle cx="1100.0" cy="735.2" r="3.75"/><circle cx="1026.9" cy="751.6" r="3.75"/><circle cx="1024.0" cy="754.5" r="3.75"/>
<circle cx="1050.9" cy="747.9" r="3.75"/><circle cx="1055.3" cy="748.7" r="3.75"/><circle cx="1060.4" cy="747.9" r="3.75"/><circle cx="1065.5" cy="749.4" r="3.75"/><circle cx="1067.0" cy="750.1" r="3.75"/><circle cx="1079.3" cy="747.9" r="3.75"/>
<circle cx="1085.9" cy="750.9" r="3.75"/><circle cx="1046.6" cy="752.3" r="3.75"/><circle cx="1001.5" cy="755.2" r="3.75"/><circle cx="1005.8" cy="755.9" r="3.75"/><circle cx="1010.9" cy="756.3" r="3.75"/><circle cx="1017.5" cy="757.4" r="3.75"/>
<circle cx="1032.0" cy="758.9" r="3.75"/><circle cx="1037.1" cy="756.7" r="3.75"/><circle cx="1045.1" cy="755.9" r="3.75"/><circle cx="1049.5" cy="755.2" r="3.75"/><circle cx="1053.1" cy="757.4" r="3.75"/><circle cx="1058.2" cy="755.9" r="3.75"/>
<circle cx="1076.4" cy="755.9" r="3.75"/><circle cx="1080.1" cy="758.9" r="3.75"/><circle cx="1090.6" cy="758.5" r="3.75"/><circle cx="1100.0" cy="755.2" r="3.75"/><circle cx="1035.7" cy="764.0" r="3.75"/><circle cx="1040.8" cy="761.8" r="3.75"/>
<circle cx="1043.7" cy="760.3" r="3.75"/><circle cx="1047.3" cy="762.5" r="3.75"/><circle cx="1050.9" cy="765.4" r="3.75"/><circle cx="1058.2" cy="761.0" r="3.75"/><circle cx="1062.6" cy="762.5" r="3.75"/><circle cx="1065.5" cy="764.0" r="3.75"/>
<circle cx="1068.4" cy="765.4" r="3.75"/><circle cx="1064.0" cy="766.9" r="3.75"/><circle cx="1076.4" cy="761.8" r="3.75"/><circle cx="1079.3" cy="763.2" r="3.75"/><circle cx="1083.0" cy="764.7" r="3.75"/><circle cx="1024.0" cy="768.3" r="3.75"/>
<circle cx="1029.1" cy="768.3" r="3.75"/><circle cx="1001.5" cy="771.2" r="3.75"/><circle cx="1011.6" cy="770.1" r="3.75"/><circle cx="1098.3" cy="768.3" r="3.75"/><circle cx="1034.2" cy="771.2" r="3.75"/><circle cx="1039.3" cy="770.5" r="3.75"/>
<circle cx="1043.7" cy="772.7" r="3.75"/><circle cx="1048.0" cy="770.5" r="3.75"/><circle cx="1052.4" cy="773.4" r="3.75"/><circle cx="1057.5" cy="769.8" r="3.75"/><circle cx="1061.9" cy="770.5" r="3.75"/><circle cx="1067.0" cy="769.0" r="3.75"/>
<circle cx="1069.9" cy="772.0" r="3.75"/><circle cx="1072.8" cy="773.4" r="3.75"/><circle cx="1080.1" cy="774.1" r="3.75"/><circle cx="1086.6" cy="774.1" r="3.75"/><circle cx="1064.0" cy="774.1" r="3.75"/><circle cx="1043.7" cy="719.6" r="3.75"/>
<circle cx="1048.0" cy="716.6" r="3.75"/><circle cx="1052.4" cy="721.0" r="3.75"/><circle cx="1055.3" cy="723.9" r="3.75"/><circle cx="1050.9" cy="726.8" r="3.75"/><circle cx="1069.1" cy="733.4" r="3.75"/><circle cx="1073.5" cy="730.5" r="3.75"/>
<circle cx="1071.3" cy="734.8" r="3.75"/><circle cx="1048.0" cy="744.3" r="3.75"/><circle cx="1053.9" cy="745.0" r="3.75"/><circle cx="1058.2" cy="745.8" r="3.75"/><circle cx="1062.6" cy="747.2" r="3.75"/><circle cx="1045.1" cy="758.9" r="3.75"/>
<circle cx="1049.5" cy="760.3" r="3.75"/><circle cx="1052.4" cy="754.5" r="3.75"/><circle cx="1060.4" cy="763.2" r="3.75"/><circle cx="1065.5" cy="760.3" r="3.75"/><circle cx="1069.1" cy="767.6" r="3.75"/><circle cx="1063.3" cy="768.3" r="3.75"/>
<circle cx="1077.1" cy="759.6" r="3.75"/><circle cx="1080.8" cy="761.0" r="3.75"/><circle cx="1021.8" cy="729.7" r="3.75"/><circle cx="1029.1" cy="731.9" r="3.75"/><circle cx="1024.7" cy="732.7" r="3.75"/>
</g>
<polygon class="band" points="758.3,724.9 768.1,725.5 777.9,726.2 787.6,726.8 797.4,727.5 807.2,728.1 817.0,728.8 826.8,729.4 836.6,730.1 846.4,730.7 856.1,731.4 865.9,732.0 875.7,732.6 885.5,733.3 895.3,733.9 905.1,734.5 914.9,735.1 924.6,735.8 934.4,736.4 944.2,736.9 954.0,737.5 963.8,738.1 973.6,738.6 983.4,739.1 993.1,739.6 1002.9,740.0 1012.7,740.4 1022.5,740.6 1032.3,740.8 1042.1,740.8 1051.8,740.7 1061.6,740.5 1071.4,740.1 1081.2,739.6 1091.0,739.1 1100.8,738.5 1110.5,737.9 1120.3,737.2 1130.1,736.5 1139.9,735.8 1149.7,735.0 1159.5,734.3 1169.3,733.5 1179.0,732.8 1188.8,732.0 1198.6,731.2 1208.4,730.4 1218.2,729.6 1228.0,728.8 1237.8,728.0 1247.5,727.2 1257.3,726.4 1267.1,725.6 1276.9,724.8 1286.7,724.0 1296.5,723.2 1306.2,722.4 1316.0,721.6 1325.8,720.8 1335.6,720.0 1335.6,768.8 1325.8,768.0 1316.0,767.2 1306.2,766.5 1296.5,765.7 1286.7,764.9 1276.9,764.1 1267.1,763.4 1257.3,762.6 1247.5,761.9 1237.8,761.1 1228.0,760.4 1218.2,759.6 1208.4,758.9 1198.6,758.1 1188.8,757.4 1179.0,756.7 1169.3,756.0 1159.5,755.3 1149.7,754.6 1139.9,753.9 1130.1,753.3 1120.3,752.7 1110.5,752.1 1100.8,751.6 1091.0,751.1 1081.2,750.7 1071.4,750.4 1061.6,750.2 1051.8,750.1 1042.1,750.1 1032.3,750.2 1022.5,750.4 1012.7,750.8 1002.9,751.2 993.1,751.6 983.4,752.1 973.6,752.6 963.8,753.2 954.0,753.8 944.2,754.4 934.4,755.0 924.6,755.7 914.9,756.3 905.1,757.0 895.3,757.6 885.5,758.3 875.7,759.0 865.9,759.7 856.1,760.4 846.4,761.0 836.6,761.7 826.8,762.4 817.0,763.1 807.2,763.8 797.4,764.5 787.6,765.2 777.9,765.9 768.1,766.6 758.3,767.3"/>
<line class="fit" x1="757.6" y1="747.0" x2="1336.3" y2="743.9"/>
<rect class="spine" x="729" y="531" width="635" height="406"/>
<text transform="translate(816.50,960.90) scale(0.91,1)" font-size="15.9px" text-anchor="middle">−4</text><text transform="translate(931.50,960.90) scale(0.91,1)" font-size="15.9px" text-anchor="middle">−2</text><text transform="translate(1047.50,960.90) scale(0.91,1)" font-size="15.9px" text-anchor="middle">0</text><text transform="translate(1162.50,960.90) scale(0.91,1)" font-size="15.9px" text-anchor="middle">2</text><text transform="translate(1277.50,960.90) scale(0.91,1)" font-size="15.9px" text-anchor="middle">4</text>
<g class="tb">
<rect x="1097.55" y="845.2" width="126.8" height="42.0"/><rect x="1224.3" y="845.2" width="127.3" height="42.0"/><rect x="1097.55" y="887.2" width="126.8" height="42.3"/><rect x="1224.3" y="887.2" width="127.3" height="42.3"/>
<text transform="translate(1161.22,861.70) scale(0.986,1)" font-size="16.67px" text-anchor="middle">Correlation</text><text transform="translate(1161.22,878.90) scale(0.998,1)" font-size="16.67px" text-anchor="middle">coefficient</text>
<text transform="translate(1287.85,861.70) scale(0.987,1)" font-size="16.67px" text-anchor="middle">Probability</text><text x="1287.85" y="878.90" font-size="16.67px" text-anchor="middle">of significance</text>
<text transform="translate(1161.22,911.80) scale(0.932,1)" font-size="17.3px" text-anchor="middle">0.01</text><text transform="translate(1288.05,911.80) scale(0.932,1)" font-size="17.3px" text-anchor="middle">0.135</text>
</g>
</g>
</svg>
</body>
</html>
